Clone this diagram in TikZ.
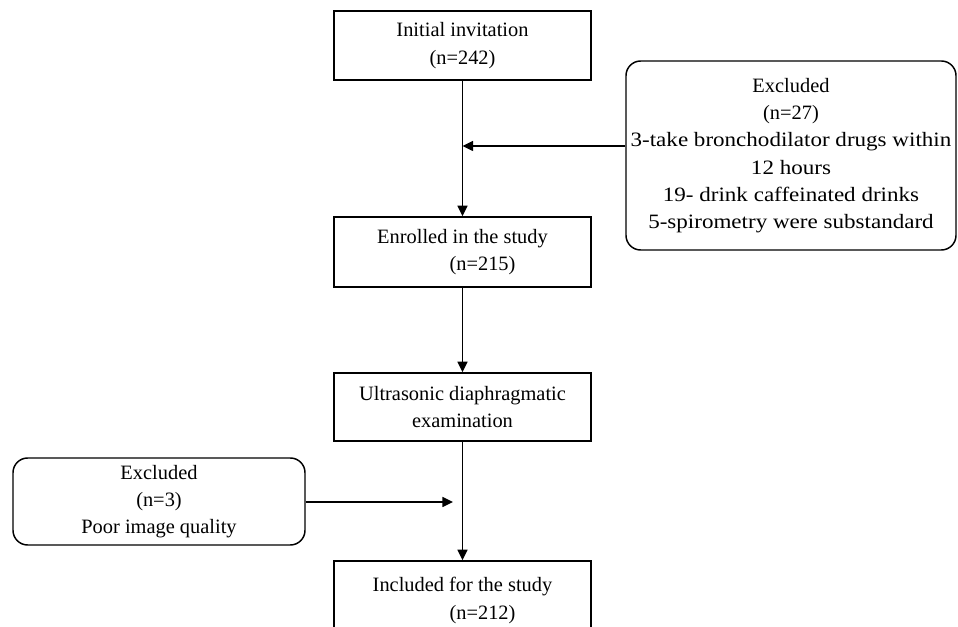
\documentclass[tikz,border=0pt]{standalone}
\usepackage{fontspec}
\setmainfont{Liberation Serif}
\newfontfamily\widefont[FakeStretch=1.13]{Liberation Serif}
\usetikzlibrary{arrows.meta}
\begin{document}
\begin{tikzpicture}[x=0.75pt,y=-0.75pt,
  every node/.style={font=\fontsize{15.3pt}{20.5pt}\selectfont, inner sep=0pt, align=center},
  flowbox/.style={draw, rectangle, line width=1.1pt, minimum width=192.75pt},
  exbox/.style={draw, rectangle, rounded corners=11pt, line width=1.1pt},
  arr/.style={line width=1.1pt, -{Triangle[length=8pt,width=7.5pt]}}]
\useasboundingbox (0,0) rectangle (958,627);
\clip (0,0) rectangle (958,627);
\node[flowbox, minimum height=51.75pt] (b1) at (462.5,45.5) {Initial invitation\\(n=242)};
\node[flowbox, minimum height=52.5pt] (b2) at (462.5,252) {Enrolled in the study\\\hspace*{30pt}(n=215)};
\node[flowbox, minimum height=51pt] (b3) at (462.5,407) {Ultrasonic diaphragmatic\\examination};
\node[flowbox, minimum height=59.25pt] (b4) at (462.5,600.5) {Included for the study\\\hspace*{30pt}(n=212)};
\node[exbox, minimum width=247.5pt, minimum height=141.75pt] (ex1) at (791,155.5)
  {Excluded\\(n=27)\\{\widefont 3-take bronchodilator drugs within}\\{\widefont 12 hours}\\{\widefont 19- drink caffeinated drinks}\\{\widefont 5-spirometry were substandard}};
\node[exbox, minimum width=219pt, minimum height=65.25pt] (ex2) at (159,501.5)
  {Excluded\\(n=3)\\Poor image quality};
\coordinate (j1) at (462.5,146);
\coordinate (j2) at (453,502);
\draw[arr] (b1.south) -- (b2.north);
\draw[arr] (b2.south) -- (b3.north);
\draw[arr] (b3.south) -- (b4.north);
\draw[arr] (ex1.west |- j1) -- (j1);
\draw[arr] (ex2.east |- j2) -- (j2);
\end{tikzpicture}
\end{document}
